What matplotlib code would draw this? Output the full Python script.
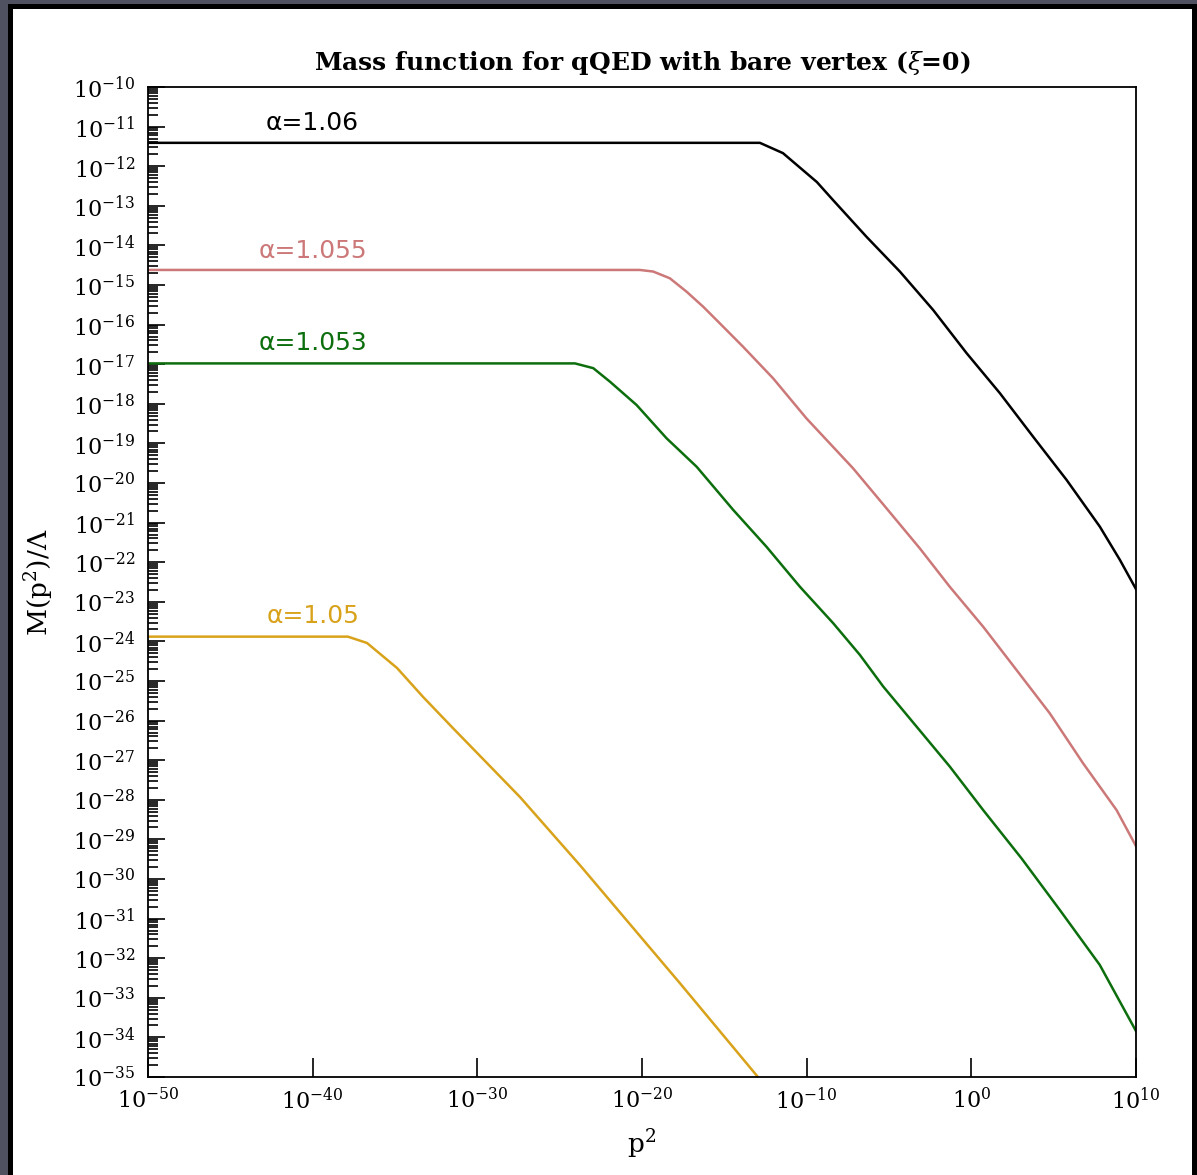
import numpy as np
import matplotlib
matplotlib.use("Agg")
import matplotlib.pyplot as plt
from matplotlib.patches import Rectangle
from matplotlib.ticker import LogLocator, FixedLocator, NullFormatter

# values, stored as log10(p^2) and log10(M/Lambda)
black_logx = [-50, -12.84, -11.44, -9.38, -8.41, -6.35, -4.34, -2.32, -0.29,
              1.73, 3.75, 5.78, 7.80, 9.02, 10]
black_logy = [-11.41, -11.41, -11.67, -12.40, -12.85, -13.79, -14.66, -15.63, -16.72,
              -17.73, -18.83, -19.92, -21.10, -21.94, -22.68]

pink_logx = [-50, -20.13, -19.32, -18.31, -17.29, -16.28, -15.27, -13.86, -12.03,
             -10.01, -7.18, -5.15, -3.13, -1.31, 0.72, 2.74, 4.77, 6.79, 8.82, 10]
pink_logy = [-14.62, -14.62, -14.66, -14.83, -15.17, -15.55, -15.97, -16.56, -17.36,
             -18.37, -19.63, -20.64, -21.65, -22.62, -23.63, -24.72, -25.82, -27.08,
             -28.26, -29.17]

green_logx = [-50, -24.07, -22.96, -21.95, -20.33, -18.51, -16.68, -14.46, -12.44,
              -10.41, -8.39, -6.77, -5.35, -3.33, -1.31, 0.72, 3.05, 5.37, 7.80, 10]
green_logy = [-16.98, -16.98, -17.10, -17.44, -18.03, -18.87, -19.59, -20.68, -21.61,
              -22.62, -23.54, -24.34, -25.14, -26.15, -27.16, -28.26, -29.48, -30.78,
              -32.17, -33.84]

orange_logx = [-50, -37.86, -36.70, -34.88, -33.30, -31.48, -29.42, -27.41, -23.77,
               -17.70, -12.96]
orange_logy = [-23.88, -23.88, -24.04, -24.67, -25.40, -26.19, -27.07, -27.93, -29.65,
               -32.63, -35.0]

curve_names = ["\u03b1=1.06", "\u03b1=1.055", "\u03b1=1.053", "\u03b1=1.05"]
curve_colors = ["black", "#cc7878", "#0c6e0c", "#d9a21b"]
label_logy = [-10.91, -14.14, -16.46, -23.36]

x_tick_exps = [-50, -40, -30, -20, -10, 0, 10]
y_tick_exps = list(range(-35, -9))

plt.rcParams['mathtext.fontset'] = 'dejavuserif'

W, H = 1197, 1175
fig = plt.figure(figsize=(W / 100, H / 100), dpi=100, facecolor="#4f5160")

# dark frame around the white page
fig.patches.append(Rectangle((8 / W, 0), (W - 8) / W, (H - 4) / H,
                             transform=fig.transFigure, facecolor="black",
                             edgecolor="none", zorder=-2))
fig.patches.append(Rectangle((13 / W, 0), (1192 - 13) / W, (H - 9) / H,
                             transform=fig.transFigure, facecolor="white",
                             edgecolor="none", zorder=-1))

ax = fig.add_axes([148 / W, (H - 1077) / H, 988 / W, 990 / H])

curves = [(black_logx, black_logy), (pink_logx, pink_logy),
          (green_logx, green_logy), (orange_logx, orange_logy)]
for (lx, ly), color in zip(curves, curve_colors):
    ax.plot(10.0 ** np.array(lx), 10.0 ** np.array(ly), color=color, lw=1.8,
            solid_joinstyle='round')

# curve labels, all centred over p^2 = 1e-40
for name, color, ly in zip(curve_names, curve_colors, label_logy):
    ax.text(1e-40, 10.0 ** ly, name, color=color, fontsize=18,
            family='DejaVu Sans', ha='center', va='center')

ax.set_xscale('log')
ax.set_yscale('log')
ax.set_xlim(1e-50, 1e10)
ax.set_ylim(1e-35, 1e-10)

# x axis: only a tick every ten decades
ax.xaxis.set_major_locator(FixedLocator([10.0 ** e for e in x_tick_exps]))
ax.xaxis.set_minor_locator(FixedLocator([]))
ax.set_xticklabels([r"$10^{%d}$" % e for e in x_tick_exps])

# y axis: every decade plus minor ticks
ax.yaxis.set_major_locator(FixedLocator([10.0 ** e for e in y_tick_exps]))
ax.yaxis.set_minor_locator(LogLocator(base=10, subs=np.arange(2, 10), numticks=100))
ax.yaxis.set_minor_formatter(NullFormatter())
ax.set_yticklabels([r"$10^{%d}$" % e for e in y_tick_exps])

ax.tick_params(axis='x', which='major', direction='in', length=14, width=1.2,
               labelsize=16, pad=7, top=False)
ax.tick_params(axis='y', which='major', direction='in', length=12, width=1.2,
               labelsize=16, pad=9, right=False)
ax.tick_params(axis='y', which='minor', direction='in', length=7, width=1.2,
               right=False)

for spine in ax.spines.values():
    spine.set_linewidth(1.3)

ax.set_title(r"Mass function for qQED with bare vertex ($\xi$=0)",
             family='DejaVu Serif', fontsize=18, weight='bold', pad=12)
ax.set_xlabel(r"p$^2$", family='DejaVu Serif', fontsize=19, labelpad=10)
ax.set_ylabel(r"M(p$^2$)/$\Lambda$", family='DejaVu Serif', fontsize=19, labelpad=12)

plt.savefig("out.png", dpi=100, facecolor=fig.get_facecolor())
